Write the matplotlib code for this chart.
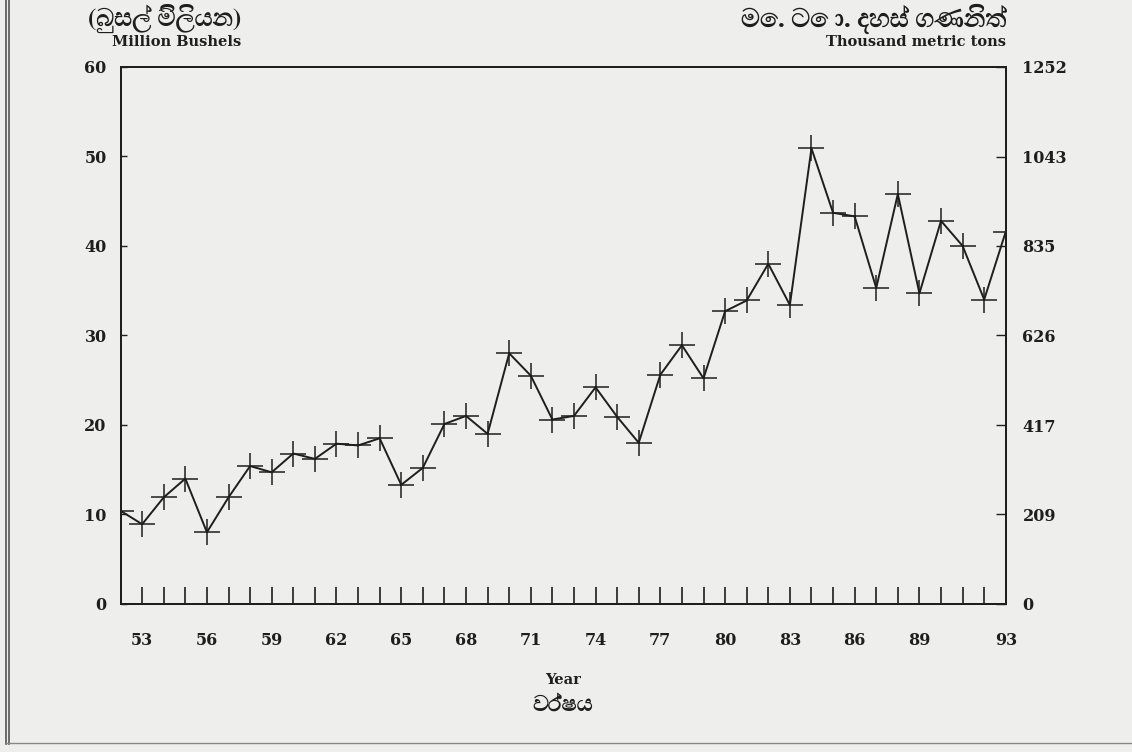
import matplotlib
matplotlib.use("Agg")
import matplotlib.pyplot as plt
from matplotlib import font_manager
from matplotlib.lines import Line2D

years = list(range(52, 94))
bushels = [10.4, 8.9, 11.9, 14.0, 8.0, 11.9, 15.4, 14.7, 16.8, 16.2,
           17.9, 17.7, 18.5, 13.3, 15.2, 20.1, 21.0, 19.0, 28.0, 25.5,
           20.6, 21.0, 24.2, 20.9, 18.0, 25.6, 28.9, 25.2, 32.7, 33.9,
           38.0, 33.4, 50.9, 43.7, 43.3, 35.3, 45.8, 34.7, 42.8, 40.0,
           34.0, 41.6]
left_ticks = [0, 10, 20, 30, 40, 50, 60]
right_ticks = [0, 209, 417, 626, 835, 1043, 1252]
x_labels = [53, 56, 59, 62, 65, 68, 71, 74, 77, 80, 83, 86, 89, 93]


def find_sinhala_font():
    try:
        from fontTools.ttLib import TTFont
    except Exception:
        return None
    best = None
    for fe in font_manager.fontManager.ttflist:
        try:
            f = TTFont(fe.fname, fontNumber=0, lazy=True)
            cmap = f.getBestCmap()
            if cmap and 0x0DB6 in cmap and 0x0DCA in cmap:
                if fe.weight in ("bold", 700) or fe.weight == 700:
                    return fe.name
                best = best or fe.name
        except Exception:
            continue
    return best


sin_font = find_sinhala_font()
sin_family = [sin_font, "DejaVu Sans"] if sin_font else ["DejaVu Sans"]

bg = "#eeeeec"
ink = "#1e1e1e"
serif = "DejaVu Serif"

fig = plt.figure(figsize=(11.32, 7.52), dpi=100, facecolor=bg)
ax = fig.add_axes([0.1065, 0.197, 0.782, 0.714])
ax.set_facecolor(bg)

ax.plot(years, bushels, color=ink, linewidth=1.4, marker="+",
        markersize=19, markeredgewidth=1.1)

ax.set_xlim(52, 93)
ax.set_ylim(0, 60)
ax.set_xticks(years, minor=True)
ax.set_xticks(x_labels)
ax.set_xticklabels([str(v) for v in x_labels])
ax.set_yticks(left_ticks)
ax.tick_params(axis="x", which="both", direction="in", length=12,
               width=1.2, color=ink, pad=20)
ax.tick_params(axis="y", direction="in", length=4, width=1.0, color=ink, pad=10)
for lab in ax.get_xticklabels() + ax.get_yticklabels():
    lab.set_fontfamily(serif)
    lab.set_fontweight("bold")
    lab.set_fontsize(11.5)
    lab.set_color(ink)

ax2 = ax.twinx()
ax2.set_ylim(0, 1252)
ax2.set_yticks(right_ticks)
ax2.tick_params(axis="y", direction="in", length=7, width=1.0, color=ink, pad=12)
for lab in ax2.get_yticklabels():
    lab.set_fontfamily(serif)
    lab.set_fontweight("bold")
    lab.set_fontsize(11.5)
    lab.set_color(ink)

for a in (ax, ax2):
    for s in a.spines.values():
        s.set_color(ink)
        s.set_linewidth(1.4)

# axis titles
fig.text(0.078, 0.975, "(බුසල් මිලියන)", family=sin_family, fontsize=18,
         fontweight="bold", color=ink, ha="left", va="center")
fig.text(0.099, 0.944, "Million Bushels", family=serif, fontsize=10.5,
         fontweight="bold", color=ink, ha="left", va="center")
fig.text(0.889, 0.975, "මෙ. ටො. දහස් ගණනිත්", family=sin_family, fontsize=19,
         fontweight="bold", color=ink, ha="right", va="center")
fig.text(0.889, 0.944, "Thousand metric tons", family=serif, fontsize=10.5,
         fontweight="bold", color=ink, ha="right", va="center")
fig.text(0.497, 0.096, "Year", family=serif, fontsize=10.5,
         fontweight="bold", color=ink, ha="center", va="center")
fig.text(0.497, 0.062, "වර්ෂය", family=sin_family, fontsize=16,
         fontweight="bold", color=ink, ha="center", va="center")

# scanned page border
for xx in (0.005, 0.008):
    fig.add_artist(Line2D([xx, xx], [0.01, 1.0], transform=fig.transFigure,
                          color="#555555", linewidth=1.2))
fig.add_artist(Line2D([0.005, 1.0], [0.012, 0.012], transform=fig.transFigure,
                      color="#888888", linewidth=1.0))

fig.savefig("out.png", dpi=100, facecolor=bg)
